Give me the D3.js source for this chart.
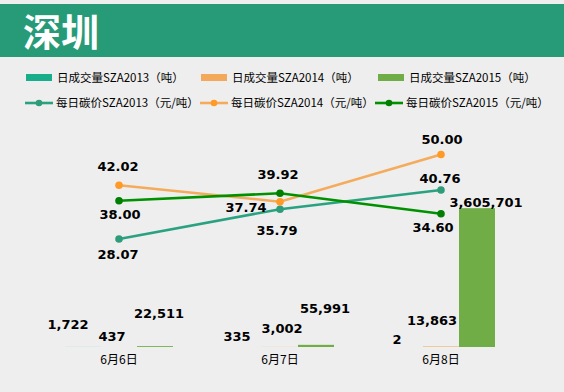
<!DOCTYPE html>
<html><head><meta charset="utf-8">
<script src="https://cdn.jsdelivr.net/npm/d3@7"></script>
<style>
html,body{margin:0;padding:0;background:#EEEEEE;}
svg{display:block;}
</style></head>
<body>
<script>
// ---- data ----
const title = "深圳";
const categories = ["6月6日", "6月7日", "6月8日"];
const barSeries = ["日成交量SZA2013（吨）", "日成交量SZA2014（吨）", "日成交量SZA2015（吨）"];
const vol2013 = [1722, 335, 2];
const vol2014 = [437, 3002, 13863];
const vol2015 = [22511, 55991, 3605701];
const lineSeries = ["每日碳价SZA2013（元/吨）", "每日碳价SZA2014（元/吨）", "每日碳价SZA2015（元/吨）"];
const price2013 = [28.07, 35.79, 40.76];
const price2014 = [42.02, 37.74, 50.00];
const price2015 = [38.00, 39.92, 34.60];
const volMax = 6000000;
const priceMax = 60;

// ---- styles / layout ----
const W = 564, H = 392;
const barColors = ["#17AE89", "#F4A95A", "#70AD47"];
const lineColors = ["#2AA281", "#F5AB5C", "#009100"];
const markerColors = ["#2E9C79", "#FF9A26", "#007F00"];
// label nudges [dx, dy] relative to bar top centre / point
const barLabelOff = [
  [[-15,-18],[-7,-6],[4,-28]],
  [[-7,-6],[2,-14],[9,-32]],
  [[-8,-3],[-9,-21],[9,-1]]
];
const lineLabelOff = [
  [[-1,20],[-3,26],[-1,-7]],
  [[-1,-14],[-34,10],[1,-10.5]],
  [[1,18.5],[-2,-14],[-8,18]]
];

const svg = d3.select("body").append("svg").attr("width", W).attr("height", H);
svg.append("rect").attr("width", W).attr("height", H).attr("fill", "#EEEEEE");

// header
svg.append("rect").attr("x", 0).attr("y", 4).attr("width", W).attr("height", 53).attr("fill", "#279A78");
svg.append("text").attr("x", 23).attr("y", 46).text(title)
  .attr("fill", "#fff").attr("font-family", "Noto Sans CJK SC").attr("font-weight", "bold").attr("font-size", 38);

// scales
const x = d3.scaleBand().domain(categories).range([38.5, 521.5]).padding(0);
const x1 = d3.scaleBand().domain(d3.range(3)).range([0, 108]);
const y = d3.scaleLinear().domain([0, volMax]).range([347, 116]);
const y2 = d3.scaleLinear().domain([0, priceMax]).range([347, 116]);
const cx = c => x(c) + x.bandwidth() / 2;

const vols = [vol2013, vol2014, vol2015];
const prices = [price2013, price2014, price2015];
const labelFont = "DejaVu Sans";

// bars
vols.forEach((vals, s) => {
  svg.append("g").selectAll("rect").data(categories).join("rect")
    .attr("x", c => cx(c) - 54 + x1(s))
    .attr("width", x1.bandwidth())
    .attr("y", (c, i) => y(vals[i]))
    .attr("height", (c, i) => y(0) - y(vals[i]))
    .attr("fill", barColors[s]);
});

// lines
prices.forEach((vals, s) => {
  const line = d3.line().x((d, i) => cx(categories[i])).y(d => y2(d));
  svg.append("path").datum(vals).attr("d", line)
    .attr("fill", "none").attr("stroke", lineColors[s]).attr("stroke-width", 2.6);
  svg.append("g").selectAll("circle").data(vals).join("circle")
    .attr("cx", (d, i) => cx(categories[i])).attr("cy", d => y2(d)).attr("r", 3.8)
    .attr("fill", markerColors[s]);
});

// bar labels
vols.forEach((vals, s) => {
  svg.append("g").selectAll("text").data(vals).join("text")
    .attr("x", (d, i) => cx(categories[i]) - 54 + x1(s) + x1.bandwidth() / 2 + barLabelOff[i][s][0])
    .attr("y", (d, i) => y(d) + barLabelOff[i][s][1])
    .attr("text-anchor", "middle").attr("font-family", labelFont).attr("font-weight", "bold")
    .attr("font-size", 13).attr("fill", "#000")
    .text(d => d3.format(",")(d));
});

// line labels
prices.forEach((vals, s) => {
  svg.append("g").selectAll("text").data(vals).join("text")
    .attr("x", (d, i) => cx(categories[i]) + lineLabelOff[s][i][0])
    .attr("y", (d, i) => y2(d) + lineLabelOff[s][i][1])
    .attr("text-anchor", "middle").attr("font-family", labelFont).attr("font-weight", "bold")
    .attr("font-size", 13).attr("fill", "#000")
    .text(d => d3.format(".2f")(d));
});

// x axis labels
const xAxis = d3.axisBottom(x).tickSize(0).tickPadding(0);
const gx = svg.append("g").attr("transform", "translate(0,355)").call(xAxis);
gx.select(".domain").remove();
gx.selectAll("text").attr("font-family", "Noto Sans CJK SC").attr("font-size", 12).attr("fill", "#000").attr("dy", "0.71em");

// legend
const legFont = "Noto Sans CJK SC";
const row1x = [26, 201, 378];
barSeries.forEach((name, s) => {
  svg.append("rect").attr("x", row1x[s]).attr("y", 74).attr("width", 26).attr("height", 7).attr("fill", barColors[s]);
  svg.append("text").attr("x", row1x[s] + 31).attr("y", 82).text(name)
    .attr("font-family", legFont).attr("font-size", 11.5).attr("fill", "#000");
});
const row2x = [25, 200, 375];
lineSeries.forEach((name, s) => {
  svg.append("line").attr("x1", row2x[s]).attr("x2", row2x[s] + 28).attr("y1", 103).attr("y2", 103)
    .attr("stroke", lineColors[s]).attr("stroke-width", 2.6);
  svg.append("circle").attr("cx", row2x[s] + 14).attr("cy", 103).attr("r", 3.3).attr("fill", markerColors[s]);
  svg.append("text").attr("x", row2x[s] + 31).attr("y", 107).text(name)
    .attr("font-family", legFont).attr("font-size", 11.5).attr("fill", "#000");
});
</script>
</body></html>
